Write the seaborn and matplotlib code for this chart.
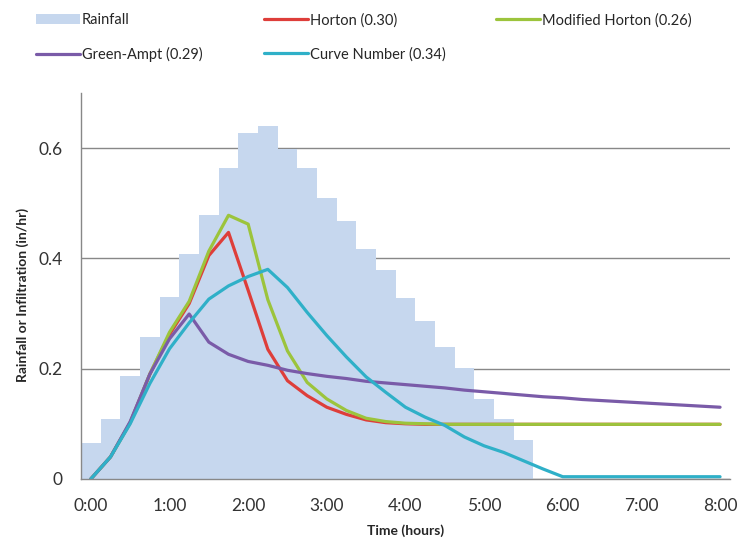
import numpy as np
import pandas as pd
import seaborn as sns
import matplotlib.pyplot as plt
from matplotlib.ticker import FixedLocator

# 时间刻度 15 分钟一格，0:00 ~ 8:00 共 33 个
n_steps = 33
hour_labels = ['0:00', '1:00', '2:00', '3:00', '4:00', '5:00', '6:00', '7:00', '8:00']

# 降雨强度 (in/hr)，前 23 个时段
rainfall = [0.066, 0.109, 0.187, 0.257, 0.330, 0.408, 0.479, 0.563, 0.628, 0.639,
            0.599, 0.563, 0.510, 0.468, 0.416, 0.378, 0.328, 0.286, 0.239, 0.201,
            0.145, 0.109, 0.070]

# 各入渗模型 (in/hr)
horton = [0, 0.040, 0.102, 0.190, 0.262, 0.318, 0.405, 0.447, 0.342, 0.235,
          0.178, 0.151, 0.130, 0.117, 0.107, 0.102, 0.100, 0.099, 0.099, 0.099,
          0.099, 0.099, 0.099, 0.099, 0.099, 0.099, 0.099, 0.099, 0.099, 0.099,
          0.099, 0.099, 0.099]
mod_horton = [0, 0.040, 0.102, 0.190, 0.266, 0.322, 0.413, 0.478, 0.462, 0.325,
              0.232, 0.175, 0.145, 0.124, 0.110, 0.104, 0.101, 0.100, 0.099, 0.099,
              0.099, 0.099, 0.099, 0.099, 0.099, 0.099, 0.099, 0.099, 0.099, 0.099,
              0.099, 0.099, 0.099]
green_ampt = [0, 0.040, 0.104, 0.190, 0.254, 0.299, 0.248, 0.226, 0.213, 0.206,
              0.197, 0.191, 0.186, 0.182, 0.177, 0.174, 0.171, 0.168, 0.165, 0.161,
              0.158, 0.155, 0.152, 0.149, 0.147, 0.144, 0.142, 0.140, 0.138, 0.136,
              0.134, 0.132, 0.130]
curve_number = [0, 0.040, 0.100, 0.173, 0.236, 0.283, 0.326, 0.350, 0.367, 0.380,
                0.347, 0.302, 0.260, 0.221, 0.185, 0.157, 0.130, 0.112, 0.097, 0.076,
                0.060, 0.048, 0.033, 0.018, 0.004, 0.004, 0.004, 0.004, 0.004, 0.004,
                0.004, 0.004, 0.004]

series_names = ['Horton (0.30)', 'Modified Horton (0.26)', 'Green-Ampt (0.29)', 'Curve Number (0.34)']
series_colors = ['#de3e3a', '#9cc43c', '#7a5ba8', '#2fb0c8']

sns.set_style('white')
plt.rcParams['font.family'] = ['Lato', 'DejaVu Sans']

rain_df = pd.DataFrame({'step': range(len(rainfall)), 'rain': rainfall})
line_df = pd.DataFrame({'step': range(n_steps),
                        series_names[0]: horton,
                        series_names[1]: mod_horton,
                        series_names[2]: green_ampt,
                        series_names[3]: curve_number})

fig, ax = plt.subplots(figsize=(7.38, 5.43), dpi=100)
fig.subplots_adjust(left=0.1098, right=0.989, bottom=0.118, top=0.829)

# 降雨柱状图 (无间隔)
sns.barplot(data=rain_df, x='step', y='rain', width=1, color='#c6d7ee',
            saturation=1, edgecolor='none', linewidth=0, ax=ax, label='Rainfall')

# 入渗曲线
for name, c in zip(series_names, series_colors):
    sns.lineplot(data=line_df, x='step', y=name, color=c, linewidth=2.3,
                 ax=ax, label=name)

ax.set_xlim(-0.5, n_steps - 0.5)
ax.set_ylim(0, 0.70)

# 坐标轴与刻度
ax.set_xticks(np.arange(0, n_steps, 4))
ax.set_xticklabels(hour_labels)
ax.xaxis.set_minor_locator(FixedLocator(np.arange(-0.5, n_steps, 1)))
ax.tick_params(axis='x', which='major', length=0, pad=14, labelsize=12.5, labelcolor='#333333')
ax.tick_params(axis='x', which='minor', length=5, width=1, color='#888888', direction='out')
ax.set_yticks([0, 0.2, 0.4, 0.6])
ax.set_yticklabels(['0', '0.2', '0.4', '0.6'])
ax.tick_params(axis='y', length=5.5, width=1, color='#888888', pad=8, labelsize=12.5, labelcolor='#333333')
ax.yaxis.grid(True, color='#888888', linewidth=1)
ax.set_axisbelow(True)
for side in ['top', 'right']:
    ax.spines[side].set_visible(False)
for side in ['left', 'bottom']:
    ax.spines[side].set_color('#888888')
    ax.spines[side].set_linewidth(1)

# 轴标题 (以文字中心定位)
ax.set_xlabel('Time (hours)', fontsize=10, fontweight='bold')
ax.set_ylabel('Rainfall or Infiltration (in/hr)', fontsize=10, fontweight='bold')
for lab in [ax.xaxis.label, ax.yaxis.label]:
    lab.set_ha('center')
    lab.set_va('center')
    lab.set_rotation_mode('default')
ax.xaxis.set_label_coords(0.5, -0.135)
ax.yaxis.set_label_coords(-0.0894, 0.477)

# 图例 按三列分别放置
handles, labels = ax.get_legend_handles_labels()
h = dict(zip(labels, handles))
if ax.legend_:
    ax.legend_.remove()
columns = [(['Rainfall', 'Green-Ampt (0.29)'], 36),
           (['Horton (0.30)', 'Curve Number (0.34)'], 264),
           (['Modified Horton (0.26)'], 496)]
for names, xpos in columns:
    fig.legend([h[k] for k in names], names, loc='upper left',
               bbox_to_anchor=(xpos / 738, 1 - 13 / 543), frameon=False,
               fontsize=10.5, handlelength=3.0, handletextpad=0.15,
               labelspacing=1.35, borderaxespad=0, borderpad=0)

fig.savefig('out.png', dpi=100)
